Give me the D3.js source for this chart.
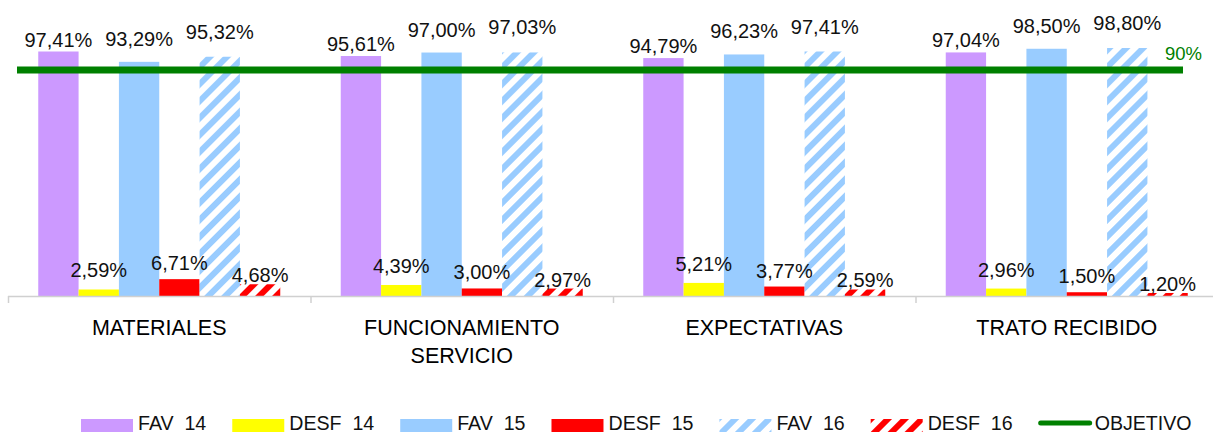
<!DOCTYPE html>
<html>
<head>
<meta charset="utf-8">
<script src="https://cdn.jsdelivr.net/npm/d3@7"></script>
<style>
  body { margin: 0; background: #fff; }
  svg { display: block; font-family: "Liberation Sans", Arial, sans-serif; }
</style>
</head>
<body>
<svg id="chart"></svg>
<script>
// categories (lines of each tick label)
const categories = ["MATERIALES", "FUNCIONAMIENTO SERVICIO", "EXPECTATIVAS", "TRATO RECIBIDO"];
const categoryLines = [["MATERIALES"], ["FUNCIONAMIENTO", "SERVICIO"], ["EXPECTATIVAS"], ["TRATO RECIBIDO"]];

const seriesNames = ["FAV  14", "DESF  14", "FAV  15", "DESF  15", "FAV  16", "DESF  16"];

// values per series, one per category (%)
const fav14 = [97.41, 95.61, 94.79, 97.04];
const desf14 = [2.59, 4.39, 5.21, 2.96];
const fav15 = [93.29, 97.0, 96.23, 98.5];
const desf15 = [6.71, 3.0, 3.77, 1.5];
const fav16 = [95.32, 97.03, 97.41, 98.8];
const desf16 = [4.68, 2.97, 2.59, 1.2];

const objetivo = 90;
const objetivoLabel = "OBJETIVO";

const seriesValues = [fav14, desf14, fav15, desf15, fav16, desf16];

const width = 1213;
const height = 434;

const svg = d3.select("#chart").attr("width", width).attr("height", height);

// fills: solid or diagonal hatch
const defs = svg.append("defs");
function hatch(id, color) {
  const p = defs.append("pattern")
    .attr("id", id)
    .attr("patternUnits", "userSpaceOnUse")
    .attr("width", 12)
    .attr("height", 12)
    .attr("patternTransform", "rotate(45)");
  p.append("rect").attr("width", 12).attr("height", 12).attr("fill", "#fff");
  p.append("rect").attr("x", 0).attr("width", 6).attr("height", 12).attr("fill", color);
}
hatch("hatchBlue", "#99ccff");
hatch("hatchRed", "#ff0000");

const fills = ["#cc99ff", "#ffff00", "#99ccff", "#ff0000", "url(#hatchBlue)", "url(#hatchRed)"];
// small per-series nudges of the value labels, like the Excel original
const labelDy = [-5, -12, -16, -9, -18, -2];

const x0 = d3.scaleBand()
  .domain(categories)
  .range([8, 1218]);

const x1 = d3.scaleBand()
  .domain(seriesNames)
  .range([0, x0.bandwidth()])
  .paddingOuter(0.75);

const y = d3.scaleLinear()
  .domain([0, 100])
  .range([296, 45]);

// bars
const groups = svg.selectAll(".cat")
  .data(categories)
  .enter()
  .append("g")
  .attr("class", "cat")
  .attr("transform", (d) => `translate(${x0(d)},0)`);

groups.each(function (cat, ci) {
  const g = d3.select(this);
  seriesNames.forEach((s, si) => {
    const v = seriesValues[si][ci];
    g.append("rect")
      .attr("x", x1(s))
      .attr("y", y(v))
      .attr("width", x1.bandwidth())
      .attr("height", y(0) - y(v))
      .attr("fill", fills[si]);
  });
});

// axis line + boundary ticks
svg.append("line")
  .attr("x1", 8).attr("x2", width)
  .attr("y1", y(0) + 0.5).attr("y2", y(0) + 0.5)
  .attr("stroke", "#d0d0d0").attr("stroke-width", 1.5);

const tickPos = categories.map((c) => x0(c)).concat([x0.range()[1]]);
svg.selectAll(".tick-mark")
  .data(tickPos)
  .enter()
  .append("line")
  .attr("class", "tick-mark")
  .attr("x1", (d) => d + 0.5).attr("x2", (d) => d + 0.5)
  .attr("y1", y(0)).attr("y2", y(0) + 7)
  .attr("stroke", "#d0d0d0").attr("stroke-width", 1.5);

// category labels
categories.forEach((c, ci) => {
  const t = svg.append("text")
    .attr("x", x0(c) + x0.bandwidth() / 2)
    .attr("y", 335)
    .attr("text-anchor", "middle")
    .attr("font-size", 21.5)
    .attr("fill", "#000");
  categoryLines[ci].forEach((line, li) => {
    t.append("tspan")
      .attr("x", x0(c) + x0.bandwidth() / 2)
      .attr("dy", li === 0 ? 0 : 28)
      .text(line);
  });
});

// objective line
svg.append("line")
  .attr("x1", x0.range()[0] + 9)
  .attr("x2", 1183)
  .attr("y1", y(objetivo))
  .attr("y2", y(objetivo))
  .attr("stroke", "#008000")
  .attr("stroke-width", 7);

svg.append("text")
  .attr("x", 1165)
  .attr("y", y(objetivo) - 10)
  .attr("font-size", 18.5)
  .attr("fill", "#008000")
  .text(objetivo + "%");

// value labels
const fmt = (v) => v.toFixed(2).replace(".", ",") + "%";
groups.each(function (cat, ci) {
  const g = d3.select(this);
  seriesNames.forEach((s, si) => {
    const v = seriesValues[si][ci];
    g.append("text")
      .attr("x", x1(s) + x1.bandwidth() / 2)
      .attr("y", y(v) + labelDy[si])
      .attr("text-anchor", "middle")
      .attr("font-size", 20)
      .attr("fill", "#111")
      .text(fmt(v));
  });
});

// legend
const legend = svg.append("g").attr("transform", "translate(81,424)");
let lx = 0;
const legendItems = seriesNames.map((s, i) => ({ name: s, fill: fills[i], line: false }))
  .concat([{ name: objetivoLabel, fill: "#008000", line: true }]);

legendItems.forEach((it) => {
  if (it.line) {
    legend.append("line")
      .attr("x1", lx + 2).attr("x2", lx + 51)
      .attr("y1", -1).attr("y2", -1)
      .attr("stroke", it.fill)
      .attr("stroke-width", 5)
      .attr("stroke-linecap", "round");
  } else {
    legend.append("rect")
      .attr("x", lx).attr("y", -5)
      .attr("width", 52).attr("height", 13)
      .attr("fill", it.fill);
  }
  const tx = it.line ? lx + 56 : lx + 57;
  const t = legend.append("text")
    .attr("x", tx)
    .attr("y", 5.5)
    .attr("font-size", 19.6)
    .attr("fill", "#111")
    .attr("xml:space", "preserve")
    .style("white-space", "pre")
    .text(it.name);
  lx = tx + t.node().getComputedTextLength() + 26;
});
</script>
</body>
</html>
